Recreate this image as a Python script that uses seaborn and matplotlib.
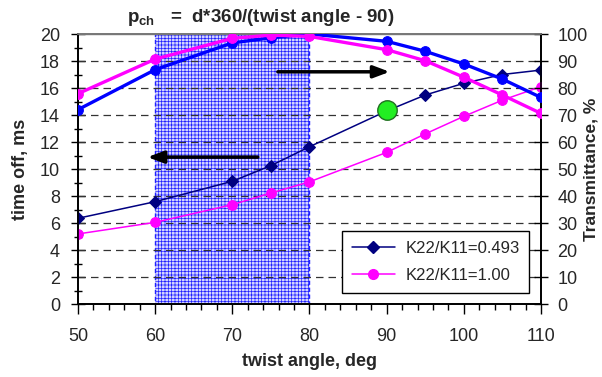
import matplotlib
matplotlib.use("Agg")
import matplotlib.pyplot as plt
import seaborn as sns
import pandas as pd
from matplotlib.patches import Rectangle
from matplotlib.ticker import MultipleLocator
from matplotlib.lines import Line2D

# ---- data ----
angles = [50, 60, 70, 75, 80, 90, 95, 100, 105, 110]
toff_0493 = [6.35, 7.58, 9.09, 10.25, 11.65, 14.3, 15.48, 16.35, 17.0, 17.33]
toff_100 = [5.19, 6.05, 7.36, 8.22, 9.05, 11.23, 12.6, 13.9, 15.1, 16.1]
trans_0493 = [72.0, 86.8, 96.7, 98.6, 100.0, 97.3, 93.6, 88.9, 83.3, 76.5]
trans_100 = [77.9, 90.7, 98.4, 99.6, 99.1, 94.2, 90.1, 84.0, 77.4, 70.6]
labels = ["K22/K11=0.493", "K22/K11=1.00"]
green_pt = (90, 14.4)
band = (60, 80)
x_ticks = [50, 60, 70, 80, 90, 100, 110]

sns.set_theme(style="white")
plt.rcParams['font.family'] = ['Liberation Sans', 'DejaVu Sans']
plt.rcParams['mathtext.fontset'] = 'custom'
plt.rcParams['mathtext.rm'] = 'Liberation Sans'
plt.rcParams['mathtext.bf'] = 'Liberation Sans:bold'
plt.rcParams['hatch.color'] = '#5a5aff'
plt.rcParams['hatch.linewidth'] = 0.5

fig = plt.figure(figsize=(6.02, 3.77), dpi=100)
ax = fig.add_axes([0.1296, 0.1936, 0.769, 0.7162])
ax2 = ax.twinx()

df = pd.DataFrame({"angle": angles, "t1": toff_0493, "t2": toff_100,
                   "T1": trans_0493, "T2": trans_100})

# shaded band
ax.add_patch(Rectangle((band[0], 0), band[1] - band[0], 20, facecolor='#d4d4ff',
                       edgecolor='#2020ff', hatch='+++++', linestyle=(0, (3, 2)),
                       linewidth=1.0, zorder=0.5))

# grid lines
for yv in range(2, 20, 2):
    ax.axhline(yv, color='#333333', lw=0.9, ls=(0, (6, 4)), zorder=1)
ax.axhline(20, color='#777777', lw=1.0, zorder=1)

# thin lines (left axis)
sns.lineplot(data=df, x="angle", y="t1", ax=ax, color='#000080', marker='D',
             markersize=6, markeredgecolor='#000080', linewidth=1.1, sort=False, zorder=3)
sns.lineplot(data=df, x="angle", y="t2", ax=ax, color='#ff00ff', marker='o',
             markersize=7, markeredgecolor='#ff00ff', linewidth=1.1, sort=False, zorder=3)

# thick lines (right axis)
sns.lineplot(data=df, x="angle", y="T1", ax=ax2, color='#0000ff', marker='o',
             markersize=7, markeredgecolor='#0000ff', linewidth=2.4, sort=False, zorder=3)
sns.lineplot(data=df, x="angle", y="T2", ax=ax2, color='#ff00ff', marker='o',
             markersize=7, markeredgecolor='#ff00ff', linewidth=2.4, sort=False, zorder=3)

# green point
ax2.plot([green_pt[0]], [green_pt[1] * 5], marker='o', markersize=14,
         markerfacecolor='#22ee22', markeredgecolor='#207020', zorder=6)

# arrows
ax2.annotate("", xy=(59.0, 54.4), xytext=(73.3, 54.4),
             arrowprops=dict(arrowstyle='-|>,head_length=0.8,head_width=0.3',
                             color='black', lw=2.5, shrinkA=0, shrinkB=0), zorder=7)
ax2.annotate("", xy=(90.4, 86.0), xytext=(75.9, 86.0),
             arrowprops=dict(arrowstyle='-|>,head_length=0.8,head_width=0.3',
                             color='black', lw=2.5, shrinkA=0, shrinkB=0), zorder=7)

ax.set_xlim(50, 110)
ax.set_ylim(0, 20)
ax2.set_ylim(0, 100)
ax.set_xticks(x_ticks)
ax.xaxis.set_minor_locator(MultipleLocator(2))
ax.yaxis.set_major_locator(MultipleLocator(2))
ax.yaxis.set_minor_locator(MultipleLocator(1))
ax2.yaxis.set_major_locator(MultipleLocator(10))

ax.tick_params(axis='x', which='major', direction='out', length=7, width=1,
               color='black', labelsize=13, pad=10, bottom=True)
ax.tick_params(axis='x', which='minor', direction='out', length=4, width=1,
               color='black', bottom=True)
ax.tick_params(axis='y', which='major', direction='inout', length=10, width=1,
               color='black', labelsize=13, left=True, pad=8)
ax.tick_params(axis='y', which='minor', direction='inout', length=6, width=1,
               color='black', left=True)
ax2.tick_params(axis='y', which='major', direction='inout', length=10, width=1,
                color='black', labelsize=13, right=True, pad=7)

for s in ['left', 'bottom', 'right']:
    ax.spines[s].set_color('black')
    ax2.spines[s].set_color('black')
ax.spines['top'].set_color('#777777')
ax2.spines['top'].set_color('#777777')
ax.spines['left'].set_linewidth(1.2)
ax2.spines['right'].set_linewidth(1.2)

ax.set_xlabel("twist angle, deg", fontsize=13, fontweight='bold', labelpad=6)
ax.set_ylabel("time off, ms", fontsize=13, fontweight='bold', labelpad=8)
ax2.set_ylabel("Transmittance, %", fontsize=12.5, fontweight='bold', labelpad=-3)
fig.text(0.434, 1 - 22 / 377, r"p$_{\mathbf{ch}}$   =  d*360/(twist angle - 90)",
         fontsize=13.5, fontweight='bold', ha='center', va='baseline')

handles = [Line2D([], [], color='#000080', marker='D', markersize=6, lw=1.1),
           Line2D([], [], color='#ff00ff', marker='o', markersize=7, lw=1.1)]
leg = ax2.legend(handles, labels, loc='lower right', bbox_to_anchor=(0.993, 0.01),
                 fontsize=12, frameon=True, fancybox=False, edgecolor='black',
                 framealpha=1, handlelength=2.6, borderpad=0.6, labelspacing=0.7,
                 handletextpad=0.6)
leg.get_frame().set_linewidth(1.0)
leg.set_zorder(10)

fig.savefig("out.png", dpi=100, facecolor='white')
